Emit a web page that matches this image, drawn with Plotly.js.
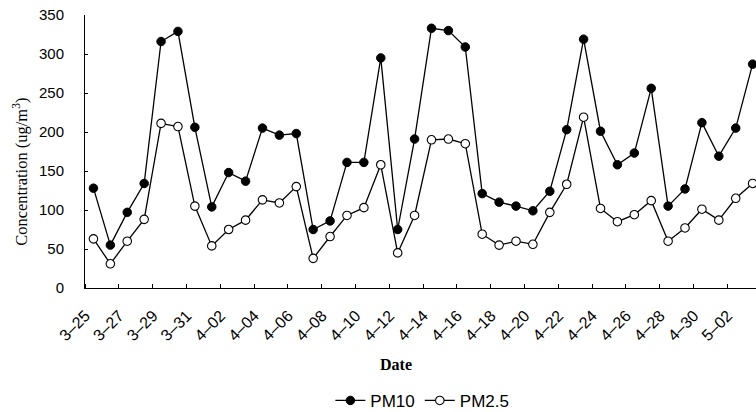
<!DOCTYPE html>
<html>
<head>
<meta charset="utf-8">
<script src="https://cdn.plot.ly/plotly-3.0.1.min.js"></script>
<style>
html,body{margin:0;padding:0;background:#fff;}
#chart{width:756px;height:412px;}
</style>
</head>
<body>
<div id="chart"></div>
<script>
// Dates (daily, 3-25 to 5-03)
const dates = ["3–25","3–26","3–27","3–28","3–29","3–30","3–31",
  "4–01","4–02","4–03","4–04","4–05","4–06","4–07","4–08","4–09","4–10",
  "4–11","4–12","4–13","4–14","4–15","4–16","4–17","4–18","4–19","4–20",
  "4–21","4–22","4–23","4–24","4–25","4–26","4–27","4–28","4–29","4–30",
  "5–01","5–02","5–03"];

const pm10 = [128,55,97,134,316,329,206,104,148,137,
  205,196,198,75,86,161,161,295,75,191,
  333,330,309,121,110,105,99,124,203,319,
  201,158,173,256,105,127,212,169,205,287];

const pm25 = [63,31,60,88,211,207,105,54,75,87,
  113,109,130,38,66,93,103,158,45,93,
  190,191,185,69,55,60,56,97,133,219,
  102,85,94,112,60,77,101,87,115,134];

const yTicks = [0,50,100,150,200,250,300,350];

// positions derived from the category list
const idx = dates.map((d, i) => i);
const labelIdx = idx.filter(i => i % 2 === 0);
const labelText = labelIdx.map(i => dates[i]);
const boundaryIdx = labelIdx.map(i => i - 0.5);

const sans = "Liberation Sans, Arial, sans-serif";
const serif = "Liberation Serif, Times New Roman, serif";

const traces = [
  {
    x: idx, y: pm10, name: "PM10", type: "scatter", mode: "lines+markers",
    line: {color: "#000", width: 1.3},
    marker: {symbol: "circle", size: 8.5, color: "#000", line: {color: "#000", width: 1}},
    cliponaxis: false
  },
  {
    x: idx, y: pm25, name: "PM2.5", type: "scatter", mode: "lines+markers",
    line: {color: "#000", width: 1.3},
    marker: {symbol: "circle", size: 8.5, color: "#fff", line: {color: "#000", width: 1.1}},
    cliponaxis: false
  }
];

const layout = {
  width: 756, height: 412,
  margin: {l: 85, r: 0, t: 15, b: 124, pad: 0},
  paper_bgcolor: "#fff", plot_bgcolor: "#fff",
  showlegend: true,
  xaxis: {
    type: "linear",
    range: [-0.5, 39.2],
    automargin: false,
    showgrid: false, zeroline: false,
    showline: true, linecolor: "#000", linewidth: 1,
    tickmode: "array", tickvals: labelIdx, ticktext: labelText,
    ticks: "", tickangle: -45,
    ticklabelstandoff: 11, ticklabelshift: -8,
    tickfont: {family: sans, size: 16, color: "#000"},
    minor: {tickmode: "array", tickvals: boundaryIdx, ticks: "inside", ticklen: 4, tickcolor: "#000", tickwidth: 1, showgrid: false}
  },
  yaxis: {
    range: [0, 350],
    automargin: false,
    showgrid: false, zeroline: false,
    showline: true, linecolor: "#000", linewidth: 1,
    tickmode: "array", tickvals: yTicks,
    ticks: "inside", ticklen: 3, tickcolor: "#000",
    ticklabelstandoff: 17,
    tickfont: {family: sans, size: 15, color: "#000"}
  },
  legend: {
    orientation: "h",
    xref: "container", yref: "container",
    x: 0.437, xanchor: "left",
    y: 0.027, yanchor: "middle",
    font: {family: sans, size: 17, color: "#000"},
    bgcolor: "rgba(0,0,0,0)"
  },
  annotations: [
    {
      text: "Date", xref: "paper", yref: "paper",
      x: 0.4635, y: -0.28, xanchor: "center", yanchor: "middle",
      showarrow: false,
      font: {family: serif, size: 16, color: "#000", weight: "bold"}
    },
    {
      text: "Concentration (ug/m<sup>3</sup>)", xref: "paper", yref: "paper",
      x: -0.096, y: 0.424, xanchor: "center", yanchor: "middle",
      textangle: -90, showarrow: false,
      font: {family: serif, size: 16.5, color: "#000"}
    }
  ]
};

Plotly.newPlot("chart", traces, layout, {displayModeBar: false, staticPlot: true});
</script>
</body>
</html>
